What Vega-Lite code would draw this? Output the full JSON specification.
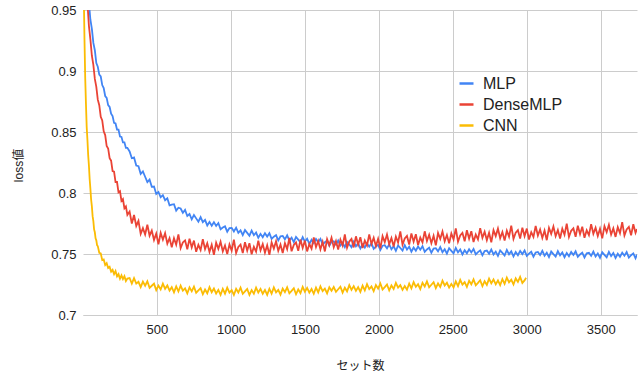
{
"$schema": "https://vega.github.io/schema/vega-lite/v6.json",
"width": 554, "height": 305,
"autosize": {"type": "none"},
"padding": {"left": 83, "top": 10, "right": 3, "bottom": 64},
"background": "white",
"config": {"view": {"stroke": null}, "font": "Liberation Sans"},
"datasets": {
"mlp": [{"x":0,"y":1.04},{"x":10,"y":1.02},{"x":20,"y":0.995},{"x":30,"y":0.975},{"x":40,"y":0.956},{"x":50,"y":0.942},{"x":60,"y":0.9345},{"x":70,"y":0.923},{"x":80,"y":0.917},{"x":90,"y":0.9065},{"x":100,"y":0.9035},{"x":110,"y":0.897},{"x":120,"y":0.8955},{"x":130,"y":0.8885},{"x":140,"y":0.886},{"x":150,"y":0.8795},{"x":160,"y":0.878},{"x":170,"y":0.872},{"x":180,"y":0.8705},{"x":190,"y":0.865},{"x":200,"y":0.863},{"x":210,"y":0.8575},{"x":220,"y":0.857},{"x":230,"y":0.852},{"x":240,"y":0.852},{"x":250,"y":0.8463},{"x":260,"y":0.846},{"x":270,"y":0.8415},{"x":280,"y":0.8415},{"x":290,"y":0.837},{"x":300,"y":0.837},
{"x":315,"y":0.8341},{"x":330,"y":0.8285},{"x":345,"y":0.8291},{"x":360,"y":0.8225},{"x":375,"y":0.822},{"x":390,"y":0.8157},{"x":405,"y":0.8177},{"x":420,"y":0.8133},{"x":435,"y":0.8089},{"x":450,"y":0.811},{"x":465,"y":0.8051},{"x":480,"y":0.8053},{"x":495,"y":0.7992},{"x":510,"y":0.8008},{"x":525,"y":0.7965},{"x":540,"y":0.7982},{"x":555,"y":0.7941},{"x":570,"y":0.7957},{"x":585,"y":0.7899},{"x":600,"y":0.7905},{"x":615,"y":0.7908},{"x":630,"y":0.7856},{"x":645,"y":0.7879},{"x":660,"y":0.7873},{"x":675,"y":0.7838},{"x":690,"y":0.7862},{"x":705,"y":0.7812},{"x":720,"y":0.7828},{"x":735,"y":0.7784},{"x":750,"y":0.782},{"x":765,"y":0.7792},{"x":780,"y":0.7765},{"x":795,"y":0.7802},{"x":810,"y":0.7761},{"x":825,"y":0.778},{"x":840,"y":0.7734},{"x":855,"y":0.7763},{"x":870,"y":0.7732},{"x":885,"y":0.7761},{"x":900,"y":0.773},{"x":915,"y":0.7754},{"x":930,"y":0.7703},{"x":945,"y":0.7717},{"x":960,"y":0.7727},{"x":975,"y":0.7683},{"x":990,"y":0.7713},{"x":1005,"y":0.7714},{"x":1020,"y":0.7685},{"x":1035,"y":0.7716},{"x":1050,"y":0.7673},{"x":1065,"y":0.7694},{"x":1080,"y":0.7655},{"x":1095,"y":0.7696},{"x":1110,"y":0.7673},{"x":1125,"y":0.765},{"x":1140,"y":0.7692},{"x":1155,"y":0.7654},{"x":1170,"y":0.7676},{"x":1185,"y":0.7633},{"x":1200,"y":0.7665},{"x":1215,"y":0.7638},{"x":1230,"y":0.7671},{"x":1245,"y":0.7643},{"x":1260,"y":0.7671},{"x":1275,"y":0.7624},{"x":1290,"y":0.7642},{"x":1305,"y":0.7654},{"x":1320,"y":0.7612},{"x":1335,"y":0.7645},{"x":1350,"y":0.7648},{"x":1365,"y":0.762},{"x":1380,"y":0.7653},{"x":1395,"y":0.7611},{"x":1410,"y":0.7634},{"x":1425,"y":0.7597},{"x":1440,"y":0.764},{"x":1455,"y":0.7618},{"x":1470,"y":0.7596},{"x":1485,"y":0.7639},{"x":1500,"y":0.7602},{"x":1515,"y":0.7625},{"x":1530,"y":0.7583},{"x":1545,"y":0.7617},{"x":1560,"y":0.759},{"x":1575,"y":0.7623},{"x":1590,"y":0.7596},{"x":1605,"y":0.7624},{"x":1620,"y":0.7578},{"x":1635,"y":0.7596},{"x":1650,"y":0.7609},{"x":1665,"y":0.7567},{"x":1680,"y":0.76},{"x":1695,"y":0.7604},{"x":1710,"y":0.7577},{"x":1725,"y":0.761},{"x":1740,"y":0.7569},{"x":1755,"y":0.7592},{"x":1770,"y":0.7556},{"x":1785,"y":0.7599},{"x":1800,"y":0.7578},{"x":1815,"y":0.7556},{"x":1830,"y":0.76},{"x":1845,"y":0.7563},{"x":1860,"y":0.7587},{"x":1875,"y":0.7545},{"x":1890,"y":0.7579},{"x":1905,"y":0.7553},{"x":1920,"y":0.7586},{"x":1935,"y":0.756},{"x":1950,"y":0.7589},{"x":1965,"y":0.7543},{"x":1980,"y":0.7562},{"x":1995,"y":0.7575},{"x":2010,"y":0.7534},{"x":2025,"y":0.7568},{"x":2040,"y":0.7572},{"x":2055,"y":0.7546},{"x":2070,"y":0.758},{"x":2085,"y":0.7539},{"x":2100,"y":0.7563},{"x":2115,"y":0.7526},{"x":2130,"y":0.757},{"x":2145,"y":0.7549},{"x":2160,"y":0.7528},{"x":2175,"y":0.7572},{"x":2190,"y":0.7536},{"x":2205,"y":0.756},{"x":2220,"y":0.7519},{"x":2235,"y":0.7553},{"x":2250,"y":0.7527},{"x":2265,"y":0.7561},{"x":2280,"y":0.7535},{"x":2295,"y":0.7564},{"x":2310,"y":0.7518},{"x":2325,"y":0.7537},{"x":2340,"y":0.7551},{"x":2355,"y":0.751},{"x":2370,"y":0.7544},{"x":2385,"y":0.7548},{"x":2400,"y":0.7522},{"x":2415,"y":0.7556},{"x":2430,"y":0.7515},{"x":2445,"y":0.7539},{"x":2460,"y":0.7503},{"x":2475,"y":0.7547},{"x":2490,"y":0.7526},{"x":2505,"y":0.7505},{"x":2520,"y":0.7549},{"x":2535,"y":0.7513},{"x":2550,"y":0.7537},{"x":2565,"y":0.7496},{"x":2580,"y":0.7531},{"x":2595,"y":0.7505},{"x":2610,"y":0.7539},{"x":2625,"y":0.7513},{"x":2640,"y":0.7542},{"x":2655,"y":0.7497},{"x":2670,"y":0.7516},{"x":2685,"y":0.753},{"x":2700,"y":0.749},{"x":2715,"y":0.7524},{"x":2730,"y":0.7528},{"x":2745,"y":0.7502},{"x":2760,"y":0.7537},{"x":2775,"y":0.7496},{"x":2790,"y":0.752},{"x":2805,"y":0.7485},{"x":2820,"y":0.7529},{"x":2835,"y":0.7509},{"x":2850,"y":0.7488},{"x":2865,"y":0.7533},{"x":2880,"y":0.7497},{"x":2895,"y":0.7522},{"x":2910,"y":0.7481},{"x":2925,"y":0.7516},{"x":2940,"y":0.749},{"x":2955,"y":0.7525},{"x":2970,"y":0.7499},{"x":2985,"y":0.7529},{"x":3000,"y":0.7484},{"x":3015,"y":0.7503},{"x":3030,"y":0.7518},{"x":3045,"y":0.7478},{"x":3060,"y":0.7512},{"x":3075,"y":0.7517},{"x":3090,"y":0.7491},{"x":3105,"y":0.7526},{"x":3120,"y":0.7486},{"x":3135,"y":0.751},{"x":3150,"y":0.7475},{"x":3165,"y":0.752},{"x":3180,"y":0.7499},{"x":3195,"y":0.7479},{"x":3210,"y":0.7524},{"x":3225,"y":0.7489},{"x":3240,"y":0.7513},{"x":3255,"y":0.7473},{"x":3270,"y":0.7508},{"x":3285,"y":0.7482},{"x":3300,"y":0.7517},{"x":3315,"y":0.7492},{"x":3330,"y":0.7522},{"x":3345,"y":0.7476},{"x":3360,"y":0.7496},{"x":3375,"y":0.7511},{"x":3390,"y":0.7471},{"x":3405,"y":0.7506},{"x":3420,"y":0.751},{"x":3435,"y":0.7485},{"x":3450,"y":0.752},{"x":3465,"y":0.7479},{"x":3480,"y":0.7504},{"x":3495,"y":0.7469},{"x":3510,"y":0.7514},{"x":3525,"y":0.7493},{"x":3540,"y":0.7473},{"x":3555,"y":0.7518},{"x":3570,"y":0.7483},{"x":3585,"y":0.7508},{"x":3600,"y":0.7468},{"x":3615,"y":0.7502},{"x":3630,"y":0.7477},{"x":3645,"y":0.7511},{"x":3660,"y":0.7486},{"x":3675,"y":0.7516},{"x":3690,"y":0.747},{"x":3705,"y":0.749},{"x":3720,"y":0.7505},{"x":3735,"y":0.7465},{"x":3745,"y":0.7495}],
"dense": [{"x":0,"y":1.05},{"x":10,"y":1.01},{"x":20,"y":0.978},{"x":30,"y":0.956},{"x":40,"y":0.937},{"x":50,"y":0.926},{"x":60,"y":0.9125},{"x":70,"y":0.905},{"x":80,"y":0.8935},{"x":90,"y":0.887},{"x":100,"y":0.8765},{"x":110,"y":0.872},{"x":120,"y":0.8625},{"x":130,"y":0.8595},{"x":140,"y":0.8505},{"x":150,"y":0.8475},{"x":160,"y":0.8385},{"x":170,"y":0.8365},{"x":180,"y":0.8285},{"x":190,"y":0.8265},{"x":200,"y":0.818},{"x":210,"y":0.8175},{"x":220,"y":0.809},{"x":230,"y":0.809},{"x":240,"y":0.8005},{"x":250,"y":0.8015},{"x":260,"y":0.7935},{"x":270,"y":0.795},{"x":280,"y":0.7875},{"x":290,"y":0.789},{"x":300,"y":0.782},
{"x":315,"y":0.7848},{"x":330,"y":0.775},{"x":345,"y":0.782},{"x":360,"y":0.773},{"x":375,"y":0.7772},{"x":390,"y":0.7665},{"x":405,"y":0.7712},{"x":420,"y":0.766},{"x":435,"y":0.774},{"x":450,"y":0.765},{"x":465,"y":0.7692},{"x":480,"y":0.7615},{"x":495,"y":0.7667},{"x":510,"y":0.758},{"x":525,"y":0.7673},{"x":540,"y":0.7617},{"x":555,"y":0.7671},{"x":570,"y":0.7585},{"x":585,"y":0.763},{"x":600,"y":0.7555},{"x":615,"y":0.763},{"x":630,"y":0.7576},{"x":645,"y":0.7661},{"x":660,"y":0.7548},{"x":675,"y":0.7595},{"x":690,"y":0.7612},{"x":705,"y":0.7539},{"x":720,"y":0.7626},{"x":735,"y":0.7553},{"x":750,"y":0.761},{"x":765,"y":0.7518},{"x":780,"y":0.7575},{"x":795,"y":0.7532},{"x":810,"y":0.7621},{"x":825,"y":0.754},{"x":840,"y":0.7588},{"x":855,"y":0.7517},{"x":870,"y":0.7576},{"x":885,"y":0.7494},{"x":900,"y":0.7593},{"x":915,"y":0.7542},{"x":930,"y":0.7601},{"x":945,"y":0.7521},{"x":960,"y":0.757},{"x":975,"y":0.7499},{"x":990,"y":0.7579},{"x":1005,"y":0.7528},{"x":1020,"y":0.7618},{"x":1035,"y":0.7508},{"x":1050,"y":0.7558},{"x":1065,"y":0.7577},{"x":1080,"y":0.7507},{"x":1095,"y":0.7597},{"x":1110,"y":0.7527},{"x":1125,"y":0.7588},{"x":1140,"y":0.7498},{"x":1155,"y":0.7559},{"x":1170,"y":0.7519},{"x":1185,"y":0.761},{"x":1200,"y":0.753},{"x":1215,"y":0.7581},{"x":1230,"y":0.7511},{"x":1245,"y":0.7572},{"x":1260,"y":0.7493},{"x":1275,"y":0.7594},{"x":1290,"y":0.7544},{"x":1305,"y":0.7605},{"x":1320,"y":0.7526},{"x":1335,"y":0.7577},{"x":1350,"y":0.7508},{"x":1365,"y":0.7589},{"x":1380,"y":0.754},{"x":1395,"y":0.7631},{"x":1410,"y":0.7522},{"x":1425,"y":0.7574},{"x":1440,"y":0.7595},{"x":1455,"y":0.7526},{"x":1470,"y":0.7618},{"x":1485,"y":0.7549},{"x":1500,"y":0.761},{"x":1515,"y":0.7521},{"x":1530,"y":0.7582},{"x":1545,"y":0.7544},{"x":1560,"y":0.7635},{"x":1575,"y":0.7556},{"x":1590,"y":0.7607},{"x":1605,"y":0.7538},{"x":1620,"y":0.76},{"x":1635,"y":0.7521},{"x":1650,"y":0.7622},{"x":1665,"y":0.7573},{"x":1680,"y":0.7634},{"x":1695,"y":0.7555},{"x":1710,"y":0.7606},{"x":1725,"y":0.7537},{"x":1740,"y":0.7618},{"x":1755,"y":0.7569},{"x":1770,"y":0.766},{"x":1785,"y":0.7551},{"x":1800,"y":0.7602},{"x":1815,"y":0.7623},{"x":1830,"y":0.7554},{"x":1845,"y":0.7645},{"x":1860,"y":0.7576},{"x":1875,"y":0.7637},{"x":1890,"y":0.7549},{"x":1905,"y":0.761},{"x":1920,"y":0.757},{"x":1935,"y":0.7661},{"x":1950,"y":0.7582},{"x":1965,"y":0.7633},{"x":1980,"y":0.7564},{"x":1995,"y":0.7625},{"x":2010,"y":0.7546},{"x":2025,"y":0.7647},{"x":2040,"y":0.7598},{"x":2055,"y":0.7659},{"x":2070,"y":0.758},{"x":2085,"y":0.7631},{"x":2100,"y":0.7562},{"x":2115,"y":0.7643},{"x":2130,"y":0.7594},{"x":2145,"y":0.7685},{"x":2160,"y":0.7576},{"x":2175,"y":0.7627},{"x":2190,"y":0.7648},{"x":2205,"y":0.7578},{"x":2220,"y":0.7669},{"x":2235,"y":0.7601},{"x":2250,"y":0.7662},{"x":2265,"y":0.7573},{"x":2280,"y":0.7634},{"x":2295,"y":0.7595},{"x":2310,"y":0.7686},{"x":2325,"y":0.7607},{"x":2340,"y":0.7658},{"x":2355,"y":0.7589},{"x":2370,"y":0.765},{"x":2385,"y":0.7571},{"x":2400,"y":0.7672},{"x":2415,"y":0.7623},{"x":2430,"y":0.7684},{"x":2445,"y":0.7605},{"x":2460,"y":0.7656},{"x":2475,"y":0.7587},{"x":2490,"y":0.7668},{"x":2505,"y":0.7619},{"x":2520,"y":0.771},{"x":2535,"y":0.7601},{"x":2550,"y":0.7652},{"x":2565,"y":0.7673},{"x":2580,"y":0.7604},{"x":2595,"y":0.7695},{"x":2610,"y":0.7626},{"x":2625,"y":0.7687},{"x":2640,"y":0.7598},{"x":2655,"y":0.7659},{"x":2670,"y":0.762},{"x":2685,"y":0.7711},{"x":2700,"y":0.7632},{"x":2715,"y":0.7683},{"x":2730,"y":0.7614},{"x":2745,"y":0.7674},{"x":2760,"y":0.7595},{"x":2775,"y":0.7696},{"x":2790,"y":0.7647},{"x":2805,"y":0.7708},{"x":2820,"y":0.7629},{"x":2835,"y":0.768},{"x":2850,"y":0.761},{"x":2865,"y":0.7691},{"x":2880,"y":0.7642},{"x":2895,"y":0.7733},{"x":2910,"y":0.7623},{"x":2925,"y":0.7674},{"x":2940,"y":0.7695},{"x":2955,"y":0.7626},{"x":2970,"y":0.7716},{"x":2985,"y":0.7647},{"x":3000,"y":0.7708},{"x":3015,"y":0.7619},{"x":3030,"y":0.7679},{"x":3045,"y":0.764},{"x":3060,"y":0.773},{"x":3075,"y":0.7651},{"x":3090,"y":0.7701},{"x":3105,"y":0.7632},{"x":3120,"y":0.7693},{"x":3135,"y":0.7613},{"x":3150,"y":0.7714},{"x":3165,"y":0.7665},{"x":3180,"y":0.7725},{"x":3195,"y":0.7646},{"x":3210,"y":0.7696},{"x":3225,"y":0.7627},{"x":3240,"y":0.7708},{"x":3255,"y":0.7658},{"x":3270,"y":0.7749},{"x":3285,"y":0.7639},{"x":3300,"y":0.769},{"x":3315,"y":0.771},{"x":3330,"y":0.7641},{"x":3345,"y":0.7732},{"x":3360,"y":0.7662},{"x":3375,"y":0.7723},{"x":3390,"y":0.7633},{"x":3405,"y":0.7694},{"x":3420,"y":0.7655},{"x":3435,"y":0.7745},{"x":3450,"y":0.7666},{"x":3465,"y":0.7716},{"x":3480,"y":0.7647},{"x":3495,"y":0.7707},{"x":3510,"y":0.7628},{"x":3525,"y":0.7728},{"x":3540,"y":0.7679},{"x":3555,"y":0.7739},{"x":3570,"y":0.7659},{"x":3585,"y":0.771},{"x":3600,"y":0.764},{"x":3615,"y":0.772},{"x":3630,"y":0.7671},{"x":3645,"y":0.7761},{"x":3660,"y":0.7652},{"x":3675,"y":0.7702},{"x":3690,"y":0.7723},{"x":3705,"y":0.7653},{"x":3720,"y":0.7744},{"x":3735,"y":0.7674},{"x":3745,"y":0.7705}],
"cnn": [{"x":0,"y":1.0},{"x":5,"y":0.965},{"x":10,"y":0.926},{"x":15,"y":0.894},{"x":20,"y":0.873},{"x":25,"y":0.854},{"x":30,"y":0.8435},{"x":35,"y":0.831},{"x":40,"y":0.8225},{"x":45,"y":0.8115},{"x":50,"y":0.8035},{"x":55,"y":0.7945},{"x":60,"y":0.789},{"x":65,"y":0.781},{"x":70,"y":0.777},{"x":75,"y":0.7702},{"x":80,"y":0.7678},{"x":85,"y":0.7628},{"x":90,"y":0.7612},{"x":95,"y":0.7572},{"x":100,"y":0.7565},{"x":110,"y":0.751},{"x":120,"y":0.7505},{"x":130,"y":0.745},{"x":140,"y":0.7455},{"x":150,"y":0.741},{"x":160,"y":0.7425},{"x":170,"y":0.7385},{"x":180,"y":0.7395},{"x":190,"y":0.7355},{"x":200,"y":0.737},{"x":210,"y":0.7335},{"x":220,"y":0.736},{"x":230,"y":0.7317},{"x":240,"y":0.7335},{"x":250,"y":0.7297},{"x":260,"y":0.7325},{"x":270,"y":0.7294},{"x":280,"y":0.7318},{"x":290,"y":0.7278},{"x":300,"y":0.7298},
{"x":315,"y":0.7303},{"x":330,"y":0.7257},{"x":345,"y":0.7302},{"x":360,"y":0.7257},{"x":375,"y":0.7272},{"x":390,"y":0.7228},{"x":405,"y":0.7274},{"x":420,"y":0.724},{"x":435,"y":0.7276},{"x":450,"y":0.7223},{"x":465,"y":0.724},{"x":480,"y":0.7257},{"x":495,"y":0.7204},{"x":510,"y":0.7241},{"x":525,"y":0.7209},{"x":540,"y":0.7257},{"x":555,"y":0.7215},{"x":570,"y":0.7242},{"x":585,"y":0.72},{"x":600,"y":0.7228},{"x":615,"y":0.7186},{"x":630,"y":0.7235},{"x":645,"y":0.7193},{"x":660,"y":0.7241},{"x":675,"y":0.72},{"x":690,"y":0.7218},{"x":705,"y":0.7177},{"x":720,"y":0.7226},{"x":735,"y":0.7194},{"x":750,"y":0.7233},{"x":765,"y":0.7182},{"x":780,"y":0.7201},{"x":795,"y":0.722},{"x":810,"y":0.717},{"x":825,"y":0.7209},{"x":840,"y":0.7178},{"x":855,"y":0.7228},{"x":870,"y":0.7187},{"x":885,"y":0.7217},{"x":900,"y":0.7176},{"x":915,"y":0.7206},{"x":930,"y":0.7165},{"x":945,"y":0.7215},{"x":960,"y":0.7175},{"x":975,"y":0.7224},{"x":990,"y":0.7184},{"x":1005,"y":0.7204},{"x":1020,"y":0.7164},{"x":1035,"y":0.7214},{"x":1050,"y":0.7184},{"x":1065,"y":0.7224},{"x":1080,"y":0.7174},{"x":1095,"y":0.7194},{"x":1110,"y":0.7214},{"x":1125,"y":0.7164},{"x":1140,"y":0.7204},{"x":1155,"y":0.7174},{"x":1170,"y":0.7224},{"x":1185,"y":0.7184},{"x":1200,"y":0.7214},{"x":1215,"y":0.7174},{"x":1230,"y":0.7205},{"x":1245,"y":0.7165},{"x":1260,"y":0.7215},{"x":1275,"y":0.7176},{"x":1290,"y":0.7226},{"x":1305,"y":0.7186},{"x":1320,"y":0.7206},{"x":1335,"y":0.7167},{"x":1350,"y":0.7217},{"x":1365,"y":0.7187},{"x":1380,"y":0.7227},{"x":1395,"y":0.7178},{"x":1410,"y":0.7198},{"x":1425,"y":0.7219},{"x":1440,"y":0.717},{"x":1455,"y":0.721},{"x":1470,"y":0.718},{"x":1485,"y":0.7231},{"x":1500,"y":0.7191},{"x":1515,"y":0.7222},{"x":1530,"y":0.7183},{"x":1545,"y":0.7213},{"x":1560,"y":0.7174},{"x":1575,"y":0.7224},{"x":1590,"y":0.7185},{"x":1605,"y":0.7235},{"x":1620,"y":0.7196},{"x":1635,"y":0.7217},{"x":1650,"y":0.7178},{"x":1665,"y":0.7228},{"x":1680,"y":0.7199},{"x":1695,"y":0.723},{"x":1710,"y":0.719},{"x":1725,"y":0.7211},{"x":1740,"y":0.7232},{"x":1755,"y":0.7183},{"x":1770,"y":0.7224},{"x":1785,"y":0.7194},{"x":1800,"y":0.7245},{"x":1815,"y":0.7206},{"x":1830,"y":0.7237},{"x":1845,"y":0.7198},{"x":1860,"y":0.7229},{"x":1875,"y":0.719},{"x":1890,"y":0.7241},{"x":1905,"y":0.7202},{"x":1920,"y":0.7253},{"x":1935,"y":0.7213},{"x":1950,"y":0.7234},{"x":1965,"y":0.7195},{"x":1980,"y":0.7246},{"x":1995,"y":0.7216},{"x":2010,"y":0.7258},{"x":2025,"y":0.7209},{"x":2040,"y":0.7229},{"x":2055,"y":0.725},{"x":2070,"y":0.7201},{"x":2085,"y":0.7242},{"x":2100,"y":0.7213},{"x":2115,"y":0.7263},{"x":2130,"y":0.7224},{"x":2145,"y":0.7245},{"x":2160,"y":0.7206},{"x":2175,"y":0.7237},{"x":2190,"y":0.7207},{"x":2205,"y":0.7258},{"x":2220,"y":0.7219},{"x":2235,"y":0.727},{"x":2250,"y":0.7231},{"x":2265,"y":0.7252},{"x":2280,"y":0.7213},{"x":2295,"y":0.7264},{"x":2310,"y":0.7234},{"x":2325,"y":0.7276},{"x":2340,"y":0.7227},{"x":2355,"y":0.7248},{"x":2370,"y":0.7269},{"x":2385,"y":0.722},{"x":2400,"y":0.7259},{"x":2415,"y":0.723},{"x":2430,"y":0.7281},{"x":2445,"y":0.7242},{"x":2460,"y":0.7264},{"x":2475,"y":0.7224},{"x":2490,"y":0.7255},{"x":2505,"y":0.7226},{"x":2520,"y":0.7276},{"x":2535,"y":0.7237},{"x":2550,"y":0.7288},{"x":2565,"y":0.7249},{"x":2580,"y":0.7269},{"x":2595,"y":0.723},{"x":2610,"y":0.7281},{"x":2625,"y":0.7252},{"x":2640,"y":0.7292},{"x":2655,"y":0.7244},{"x":2670,"y":0.7264},{"x":2685,"y":0.7285},{"x":2700,"y":0.7236},{"x":2715,"y":0.7277},{"x":2730,"y":0.7247},{"x":2745,"y":0.7298},{"x":2760,"y":0.726},{"x":2775,"y":0.7291},{"x":2790,"y":0.7251},{"x":2805,"y":0.7283},{"x":2820,"y":0.7244},{"x":2835,"y":0.7295},{"x":2850,"y":0.7256},{"x":2865,"y":0.7307},{"x":2880,"y":0.7268},{"x":2895,"y":0.7289},{"x":2910,"y":0.725},{"x":2925,"y":0.73},{"x":2940,"y":0.7271},{"x":2955,"y":0.7312},{"x":2970,"y":0.7263},{"x":2985,"y":0.7284},{"x":2995,"y":0.7305}]
},
"encoding": {
  "x": {"field": "x", "type": "quantitative",
    "scale": {"domain": [0, 3745], "nice": false, "zero": false},
    "axis": {"title": "セット数", "values": [500, 1000, 1500, 2000, 2500, 3000, 3500], "format": "d",
      "grid": true, "gridColor": "#cccccc", "ticks": false, "domain": true, "domainColor": "#cccccc",
      "labelFontSize": 13, "labelColor": "#222222", "labelPadding": 8, "labelFont": "Liberation Sans",
      "titleFont": "Liberation Sans, Noto Sans CJK JP", "titleFontSize": 12, "titleFontWeight": "normal",
      "titleColor": "#222222", "titleY": 50, "titleBaseline": "middle"}},
  "y": {"field": "y", "type": "quantitative",
    "scale": {"domain": [0.7, 0.95], "nice": false, "zero": false},
    "axis": {"title": "loss値", "values": [0.7, 0.75, 0.8, 0.85, 0.9, 0.95], "format": ".2~f",
      "grid": true, "gridColor": "#cccccc", "ticks": false, "domain": false,
      "labelFontSize": 13, "labelColor": "#222222", "labelPadding": 7, "labelFont": "Liberation Sans",
      "titleFont": "Liberation Sans, Noto Sans CJK JP", "titleFontSize": 12, "titleFontWeight": "normal",
      "titleColor": "#222222", "titleX": -65, "titleY": 155, "titleAngle": -90, "titleAlign": "center", "titleBaseline": "middle"}}
},
"layer": [
  {"data": {"name": "mlp"}, "mark": {"type": "line", "strokeWidth": 1.8, "clip": true},
   "encoding": {"color": {"datum": "MLP", "type": "nominal",
     "scale": {"domain": ["MLP", "DenseMLP", "CNN"], "range": ["#4285F4", "#EA4335", "#FBBC04"]},
     "legend": {"orient": "none", "legendX": 375, "legendY": 65, "title": null, "padding": 0,
       "symbolType": "stroke", "symbolSize": 196, "symbolStrokeWidth": 2.5,
       "labelFontSize": 16, "labelFont": "Liberation Sans", "labelColor": "#222222", "labelOffset": 8, "rowPadding": 4}}}},
  {"data": {"name": "dense"}, "mark": {"type": "line", "strokeWidth": 1.8, "clip": true},
   "encoding": {"color": {"datum": "DenseMLP", "type": "nominal"}}},
  {"data": {"name": "cnn"}, "mark": {"type": "line", "strokeWidth": 1.8, "clip": true},
   "encoding": {"color": {"datum": "CNN", "type": "nominal"}}}
]
}
